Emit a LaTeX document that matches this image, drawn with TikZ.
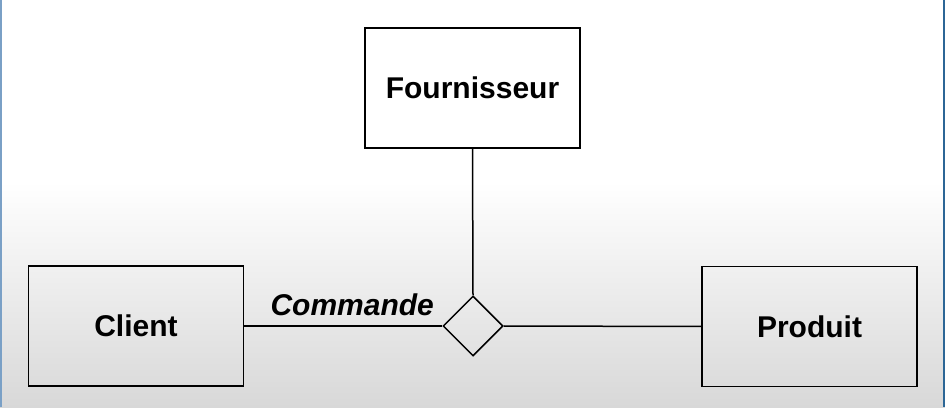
\documentclass[tikz,border=0pt]{standalone}
\usepackage{fontspec}
\setmainfont{Liberation Sans}
\usetikzlibrary{positioning, shapes.geometric}
\definecolor{EdgeBlue}{RGB}{122,160,198}
\definecolor{FrameBlue}{RGB}{44,102,150}
\definecolor{FloorGray}{RGB}{216,216,216}

\begin{document}
\begin{tikzpicture}[
  x=1pt, y=1pt,
  font=\fontsize{30}{36}\selectfont\bfseries,
  entity/.style={draw, line width=1.8pt, minimum width=215pt, minimum height=120pt, inner sep=0pt},
  relation/.style={diamond, draw, line width=1.5pt, minimum width=60pt, minimum height=60pt, inner sep=0pt},
  link/.style={line width=1.5pt}
  ]

% Background
\useasboundingbox (0,0) rectangle (945,407);
\fill[white] (0,0) rectangle (945,407);
\shade[top color=white, bottom color=FloorGray] (0,0) rectangle (945,225);
\fill[EdgeBlue] (0,0) rectangle (1.6,407);
\fill[FrameBlue] (942.5,0) rectangle (945,407);

% Entities
\node[entity, fill=white] (supplier) at (472.5,319) {Fournisseur};
\node[entity] (client) at (136,81) {Client};
\node[entity] (product) at (809.5,80.5) {Produit};

% Relation
\node[relation] (order) at (473,81) {};

% Links
\draw[link] (client.east) -- (order.west)
  node[pos=0.545, above=6pt, font=\fontsize{30}{36}\selectfont\bfseries\itshape] (orderlabel) {Commande};
\draw[link] (order.east) -- (product.west);
\draw[link] (supplier.south) -- (order.north);
\end{tikzpicture}
\end{document}
